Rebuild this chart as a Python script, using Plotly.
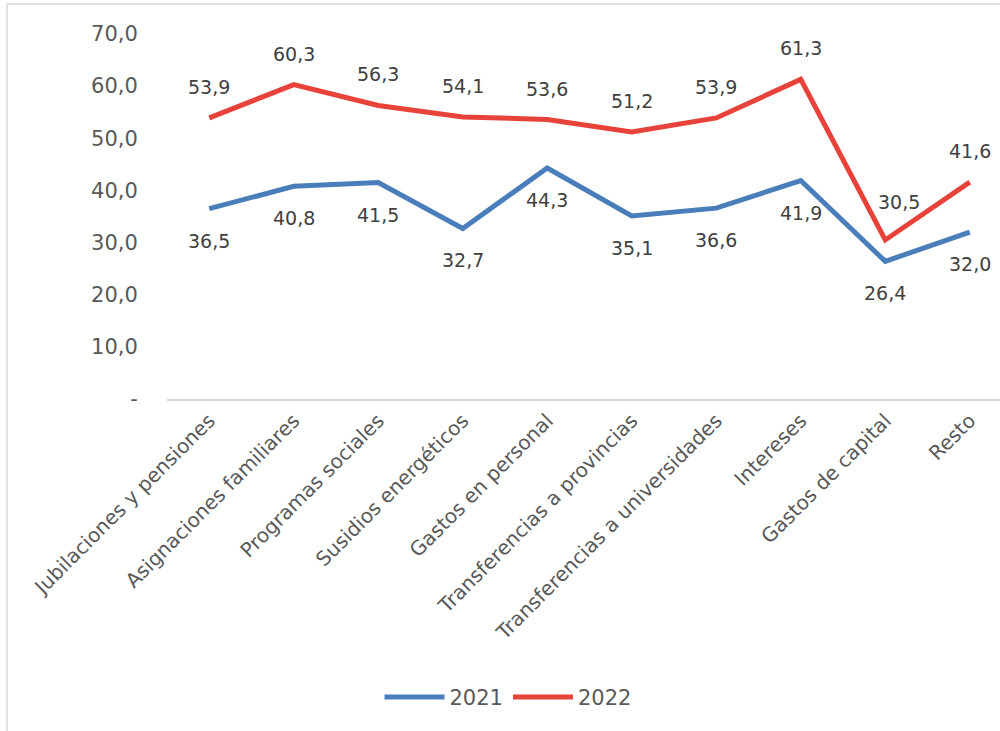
import plotly.graph_objects as go

categories = ["Jubilaciones y pensiones", "Asignaciones familiares", "Programas sociales",
              "Susidios energéticos", "Gastos en personal", "Transferencias a provincias",
              "Transferencias a universidades", "Intereses", "Gastos de capital", "Resto"]
values_2021 = [36.5, 40.8, 41.5, 32.7, 44.3, 35.1, 36.6, 41.9, 26.4, 32.0]
values_2022 = [53.9, 60.3, 56.3, 54.1, 53.6, 51.2, 53.9, 61.3, 30.5, 41.6]
y_tickvals = [0, 10, 20, 30, 40, 50, 60, 70]
y_ticktext = ["-", "10,0", "20,0", "30,0", "40,0", "50,0", "60,0", "70,0"]

BLUE = "#4A7EBB"
RED = "#E8433A"
FONT = "DejaVu Sans"
TXT = "#595959"

def fmt(v):
    return f"{v:.1f}".replace(".", ",")

fig = go.Figure()
fig.add_trace(go.Scatter(x=categories, y=values_2021, mode="lines", name="2021",
                         line=dict(color=BLUE, width=5)))
fig.add_trace(go.Scatter(x=categories, y=values_2022, mode="lines", name="2022",
                         line=dict(color=RED, width=5)))

annotations = []
for i, (c, v) in enumerate(zip(categories, values_2021)):
    annotations.append(dict(x=c, y=v, text=fmt(v), showarrow=False, yshift=-32,
                            font=dict(family=FONT, size=19, color="#404040")))
for i, (c, v) in enumerate(zip(categories, values_2022)):
    xs = 14 if i == 8 else 0
    ys = 38 if i == 8 else 31
    annotations.append(dict(x=c, y=v, text=fmt(v), showarrow=False, yshift=ys, xshift=xs,
                            font=dict(family=FONT, size=19, color="#404040")))

fig.update_layout(
    width=1000, height=731,
    margin=dict(l=167, r=0, t=34, b=332),
    paper_bgcolor="white", plot_bgcolor="white",
    font=dict(family=FONT, color=TXT),
    showlegend=True,
    legend=dict(orientation="h", xref="container", yref="container", x=0.508, y=0.046,
                xanchor="center", yanchor="middle", font=dict(family=FONT, size=21, color=TXT),
                itemwidth=60),
    annotations=annotations,
    shapes=[dict(type="rect", xref="paper", yref="paper",
                 x0=(7 - 167) / 833, x1=1.2, y0=-1.5, y1=(399 - 4) / 365,
                 line=dict(color="#D9D9D9", width=1.5), fillcolor="rgba(0,0,0,0)", layer="below")],
)
fig.update_xaxes(range=[-0.5, 9.358], showgrid=False, showline=True, linecolor="#D9D9D9",
                 linewidth=2, tickangle=-45, ticks="", tickfont=dict(family=FONT, size=20, color=TXT),
                 zeroline=False)
fig.update_yaxes(range=[0, 70], tickvals=y_tickvals, ticktext=y_ticktext, showgrid=False,
                 showline=False, zeroline=False, ticks="outside", ticklen=24,
                 tickcolor="rgba(0,0,0,0)", tickfont=dict(family=FONT, size=21, color=TXT))

fig.write_html("out.html", config={"displayModeBar": False},
               post_script="document.body.style.margin='0';document.body.style.overflow='hidden';")
